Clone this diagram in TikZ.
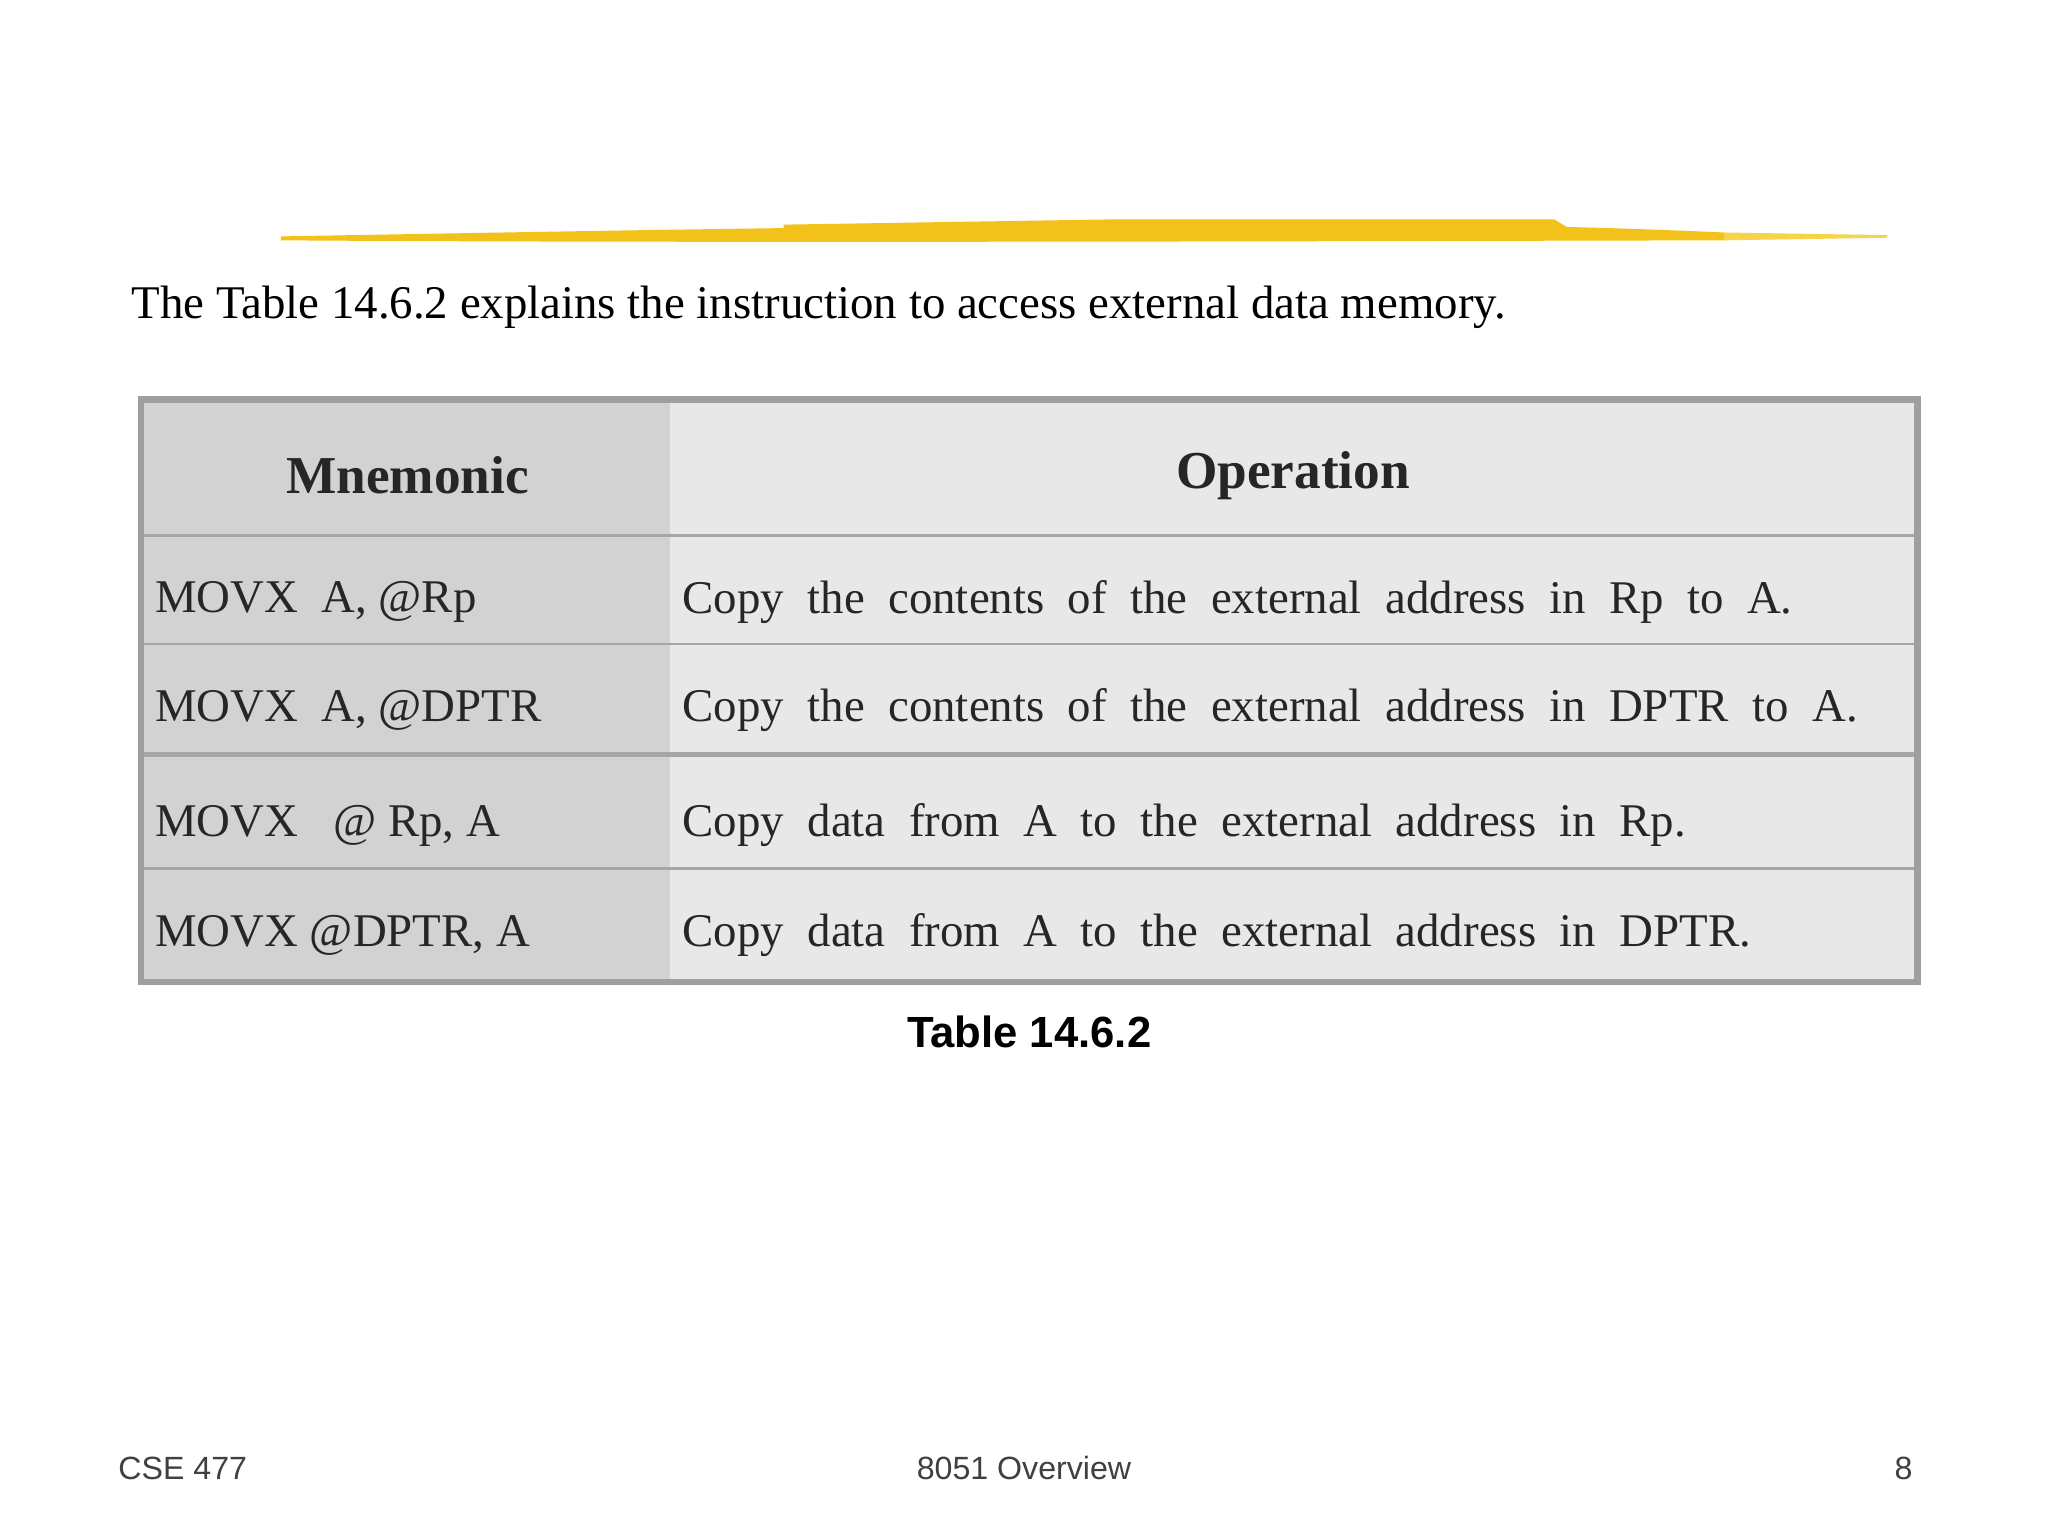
\documentclass[tikz,border=0pt]{standalone}
\usepackage{fontspec}
\setmainfont{Liberation Serif}
\setsansfont{Liberation Sans}
\definecolor{gold}{HTML}{F2C21A}
\definecolor{goldl}{HTML}{F7D34A}
\begin{document}
\begin{tikzpicture}[x=0.01cm,y=-0.01cm,
  cell/.style={anchor=west,inner sep=0pt,font=\fontsize{10.2}{12}\selectfont,text=black!85},
  head/.style={inner sep=0pt,font=\fontsize{11.6}{13}\selectfont\bfseries,text=black!85},
  foot/.style={inner sep=0pt,font=\sffamily\fontsize{7}{8}\selectfont,text=black!75}]
\useasboundingbox (0,0) rectangle (1568,1176);
\fill[white] (0,0) rectangle (1568,1176);
% brush stroke
\fill[gold] (215,181) .. controls (500,176) and (700,172) .. (1000,172) .. controls (1150,171) and (1250,175) .. (1320,178) -- (1320,184) .. controls (900,185) and (500,186) .. (215,184) -- cycle;
\fill[goldl] (1320,178) -- (1445,180) -- (1445,182) -- (1320,184) -- cycle;
\fill[gold] (600,172) -- (850,168) -- (1190,168) -- (1200,174) -- (600,176) -- cycle;
\node[anchor=west,inner sep=0pt,font=\fontsize{10.2}{12}\selectfont] (intro) at (100,235) {The Table 14.6.2 explains the instruction to access external data memory.};
% table fills
\fill[gray!35] (108,306) rectangle (513,752);
\fill[gray!18] (513,306) rectangle (1468,752);
\draw[gray!70,line width=0.6pt] (108,410) -- (1468,410) (108,493) -- (1468,493) (108,665) -- (1468,665);
\draw[gray!70,line width=1.1pt] (108,578) -- (1468,578);
\draw[gray!75,line width=1.4pt] (108,306) rectangle (1468,752);
\node[head] (h1) at (312,364) {Mnemonic};
\node[head] (h2) at (990,364) {Operation};
\node[cell] (m1) at (118,461) {MOVX\ \ A,\ @Rp};
\node[cell] (o1) at (522,461) {Copy\ \ the\ \ contents\ \ of\ \ the\ \ external\ \ address\ \ in\ \ Rp\ \ to\ \ A.};
\node[cell] (m2) at (118,544) {MOVX\ \ A,\ @DPTR};
\node[cell] (o2) at (522,544) {Copy\ \ the\ \ contents\ \ of\ \ the\ \ external\ \ address\ \ in\ \ DPTR\ \ to\ \ A.};
\node[cell] (m3) at (118,632) {MOVX\ \ \ @\ Rp,\ A};
\node[cell] (o3) at (522,632) {Copy\ \ data\ \ from\ \ A\ \ to\ \ the\ \ external\ \ address\ \ in\ \ Rp.};
\node[cell] (m4) at (118,716) {MOVX\ @DPTR,\ A};
\node[cell] (o4) at (522,716) {Copy\ \ data\ \ from\ \ A\ \ to\ \ the\ \ external\ \ address\ \ in\ \ DPTR.};
\node[inner sep=0pt,font=\sffamily\bfseries\fontsize{9.5}{11}\selectfont] (cap) at (788,790) {Table 14.6.2};
\node[foot,anchor=west] (f1) at (90,1124) {CSE 477};
\node[foot] (f2) at (784,1124) {8051 Overview};
\node[foot,anchor=east] (f3) at (1465,1124) {8};
\end{tikzpicture}
\end{document}
